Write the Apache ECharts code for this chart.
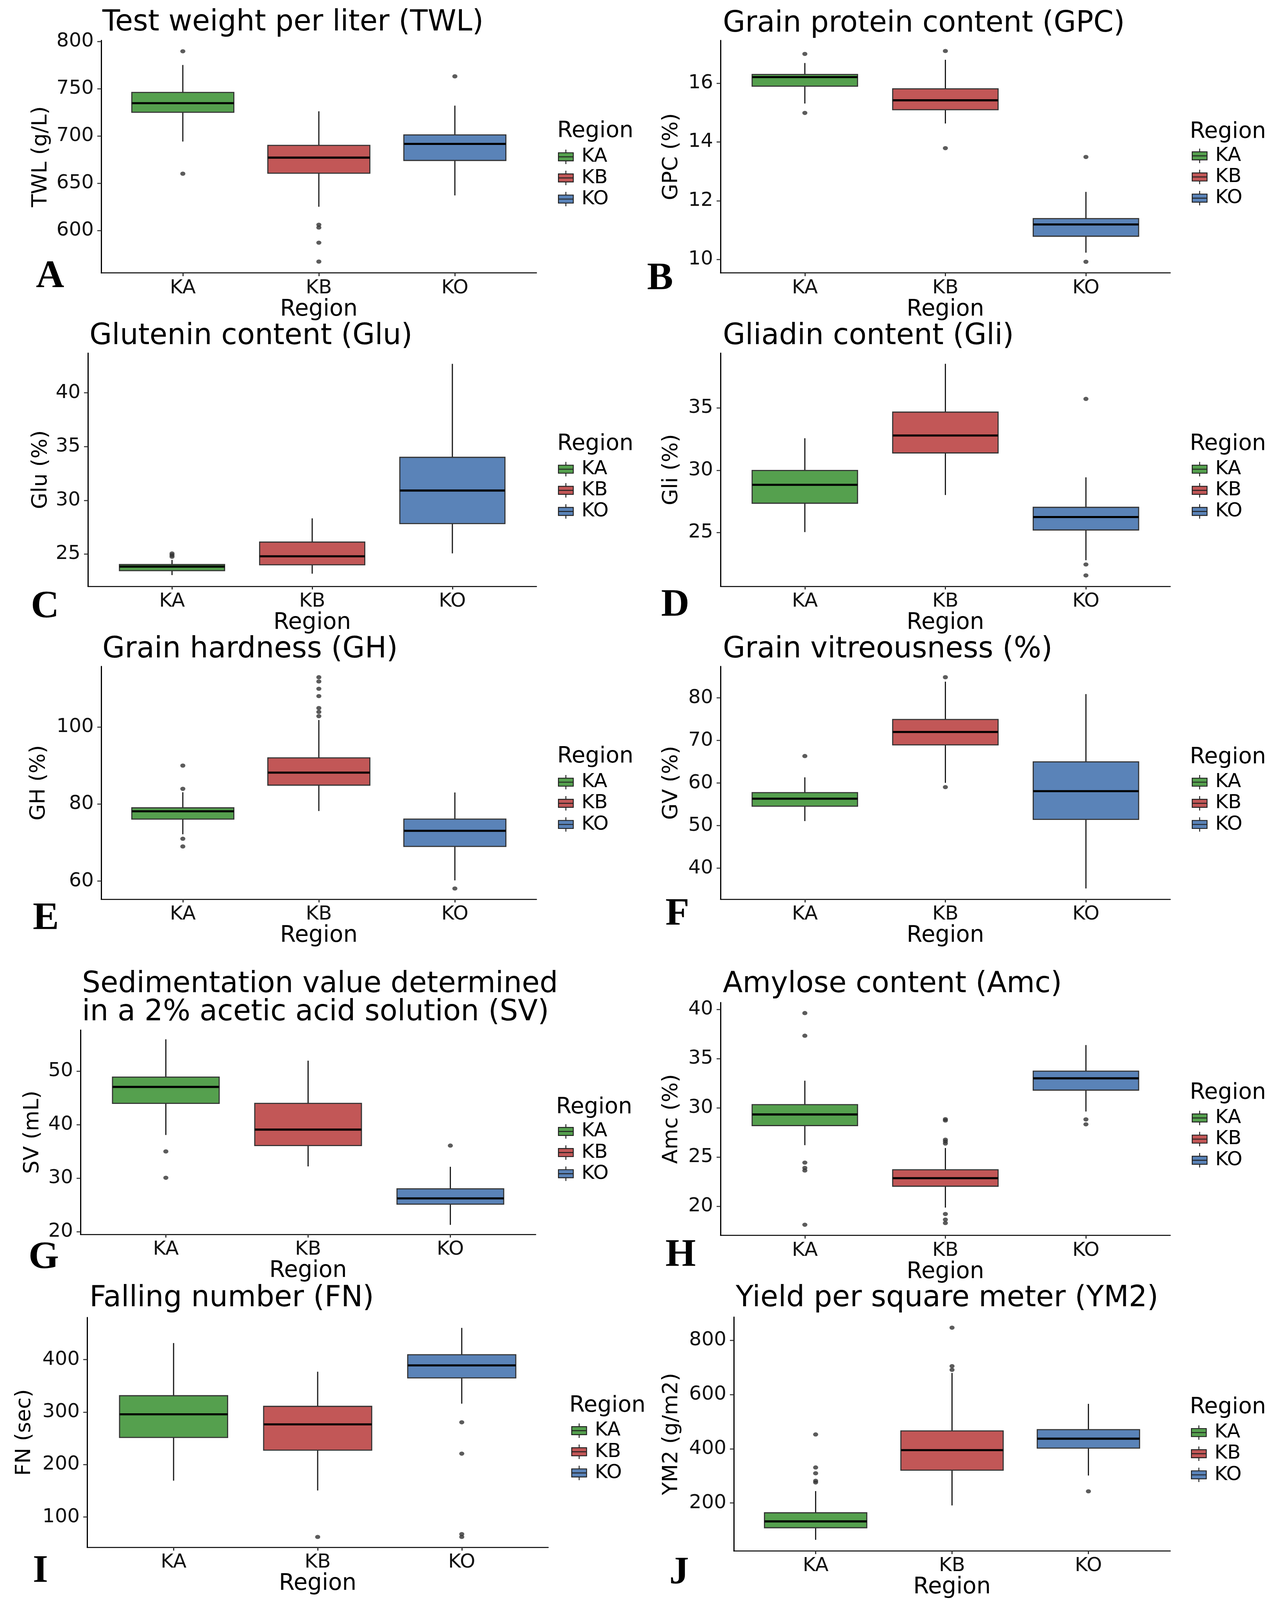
<!DOCTYPE html>
<html>
<head>
<meta charset="utf-8">
<script src="https://cdn.jsdelivr.net/npm/echarts@6/dist/echarts.min.js"></script>
<style>
html,body{margin:0;padding:0;background:#ffffff;overflow:hidden;}
#chart{position:absolute;left:0;top:0;}
</style>
</head>
<body>
<div id="chart"></div>
<script>
// ---------------- DATA ----------------
const regions = ['KA', 'KB', 'KO'];

// box stats per region: [lower whisker, Q1, median, Q3, upper whisker]
const twlBox = [[694, 725, 734.6, 746, 775], [625, 660.5, 677, 690, 726], [637, 674, 691.5, 701, 732]];
const twlOut = [[789.5, 660], [606, 603, 587, 567], [763]];
const twlTicks = [600, 650, 700, 750, 800];

const gpcBox = [[15.31, 15.90, 16.21, 16.30, 16.69], [14.63, 15.10, 15.42, 15.81, 16.80], [10.23, 10.79, 11.19, 11.39, 12.30]];
const gpcOut = [[17.0, 14.99], [17.10, 13.79], [13.49, 9.92]];
const gpcTicks = [10, 12, 14, 16];

const gluBox = [[23.04, 23.45, 23.83, 24.02, 24.45], [23.17, 24.0, 24.79, 26.11, 28.32], [25.06, 27.83, 30.91, 34.0, 42.70]];
const gluOut = [[24.75, 24.9, 25.05], [], []];
const gluTicks = [25, 30, 35, 40];

const gliBox = [[25.03, 27.35, 28.83, 29.98, 32.57], [28.01, 31.39, 32.79, 34.67, 38.55], [22.77, 25.2, 26.24, 27.02, 29.43]];
const gliOut = [[], [], [35.73, 22.43, 21.55]];
const gliTicks = [25, 30, 35];

const ghBox = [[72.16, 76.09, 78.13, 79.02, 83.06], [78.19, 84.9, 88.15, 91.98, 101.8], [60.2, 69.0, 73.05, 76.09, 83.0]];
const ghOut = [[89.98, 83.95, 71.0, 69.0], [112.9, 111.8, 109.9, 108.0, 104.9, 103.9, 102.8], [58.1]];
const ghTicks = [60, 80, 100];

const gvBox = [[51.07, 54.56, 56.33, 57.76, 61.34], [60.05, 68.97, 72.0, 74.94, 83.82], [35.24, 51.46, 58.1, 64.97, 80.9]];
const gvOut = [[66.35], [84.87, 59.05], []];
const gvTicks = [40, 50, 60, 70, 80];

const svBox = [[38.07, 43.98, 47.05, 48.88, 55.94], [32.2, 36.09, 39.08, 43.98, 51.95], [21.28, 25.15, 26.23, 28.02, 32.13]];
const svOut = [[35.0, 30.08], [], [36.09]];
const svTicks = [20, 30, 40, 50];

const amcBox = [[26.21, 28.2, 29.33, 30.33, 32.76], [19.87, 22.04, 22.86, 23.71, 25.92], [29.63, 31.8, 33.0, 33.73, 36.38]];
const amcOut = [[39.63, 37.33, 24.44, 23.9, 23.64, 18.13], [28.85, 28.72, 26.77, 26.59, 26.38, 19.22, 18.65, 18.3], [28.83, 28.33]];
const amcTicks = [20, 25, 30, 35, 40];

const fnBox = [[169.4, 251.7, 295.8, 331.3, 431.6], [150.7, 227.5, 276.7, 311.0, 377.0], [316.1, 365.3, 389.1, 409.4, 460.5]];
const fnOut = [[], [62.2], [280.6, 220.9, 67.6, 62.2]];
const fnTicks = [100, 200, 300, 400];

const ymBox = [[64, 108.6, 132, 163.7, 243.8], [190.9, 320.9, 394.9, 465.9, 679.7], [301.2, 402.4, 437.2, 470.4, 565.6]];
const ymOut = [[452.7, 331, 309.5, 281.6, 275.6], [846.7, 704.7, 691.1], [243]];
const ymTicks = [200, 400, 600, 800];

const panelTitles = ['Test weight per liter (TWL)', 'Grain protein content (GPC)', 'Glutenin content (Glu)', 'Gliadin content (Gli)',
  'Grain hardness (GH)', 'Grain vitreousness (%)', 'Sedimentation value determined\nin a 2% acetic acid solution (SV)',
  'Amylose content (Amc)', 'Falling number (FN)', 'Yield per square meter (YM2)'];
const yNames = ['TWL (g/L)', 'GPC (%)', 'Glu (%)', 'Gli (%)', 'GH (%)', 'GV (%)', 'SV (mL)', 'Amc (%)', 'FN (sec)', 'YM2 (g/m2)'];
const panelLetters = ['A', 'B', 'C', 'D', 'E', 'F', 'G', 'H', 'I', 'J'];
const yRanges = [[555, 801], [9.54, 17.46], [22.0, 43.7], [20.68, 39.41], [55.3, 115.7], [32.7, 87.4], [19.5, 57.66], [17.05, 40.7], [42.2, 480.4], [23, 885.5]];

const boxes = [twlBox, gpcBox, gluBox, gliBox, ghBox, gvBox, svBox, amcBox, fnBox, ymBox];
const outliers = [twlOut, gpcOut, gluOut, gliOut, ghOut, gvOut, svOut, amcOut, fnOut, ymOut];
const yTicks = [twlTicks, gpcTicks, gluTicks, gliTicks, ghTicks, gvTicks, svTicks, amcTicks, fnTicks, ymTicks];

// ---------------- LAYOUT / STYLE (reference pixel space 3281 x 4989) ----------------
const REF_W = 3281, REF_H = 4989;
const gridBoxes = [[259, 126, 1114, 725], [1844, 126, 1151, 725], [225, 1101, 1148, 727], [1844, 1101, 1151, 727],
  [259, 2078, 1114, 726], [1844, 2078, 1151, 726], [206, 3212, 1165, 637], [1844, 3126, 1151, 726],
  [223, 4108, 1180, 717], [1878, 4107, 1117, 729]];
const titleCenter = [[262, 72], [1850, 75], [229, 1050], [1850, 1050], [262, 2027], [1850, 2027], [210, 3070], [1850, 3070], [229, 4050], [1883, 4050]];
const yNameDist = [154, 125, 120, 125, 159, 125, 122, 125, 160, 159];
const legendPos = [[1428, 481], [3050, 478], [1428, 1455], [3050, 1455], [1428, 2431], [3050, 2431], [1428, 3520], [3050, 3478], [1462, 4453], [3048, 4459]];
const legendTitlePos = [[1426, 409], [3045, 412], [1426, 1385], [3045, 1385], [1426, 2360], [3045, 2362], [1423, 3453], [3045, 3408], [1457, 4384], [3045, 4389]];
const letterPos = [[92, 864], [1656, 870], [79, 1893], [1692, 1888], [84, 2865], [1703, 2852], [73, 3922], [1703, 3915], [84, 4900], [1713, 4905]];

const fills = ['#55A04E', '#C25757', '#5A83B8'];
const FONT = '"DejaVu Sans", "Liberation Sans", Arial, sans-serif';
const SERIF = '"Liberation Serif", "Times New Roman", serif';
const HALF_W = 0.375;
const xPositions = regions.map((_, i) => i + 1);

// fit the reference layout to the real viewport
const VW = window.innerWidth || REF_W, VH = window.innerHeight || REF_H;
const SX = VW / REF_W, SY = VH / REF_H;
const el = document.getElementById('chart');
el.style.width = VW + 'px';
el.style.height = VH + 'px';
const X = v => v * SX, Y = v => v * SY;

// font sizes in screen px
const TITLE_FS = 74, TICK_FS = 50, XNAME_FS = 58, YNAME_FS = 54, LEGT_FS = 57, LEG_FS = 50, LETTER_FS = 100;
const TITLE_LH = Math.round(Y(88));

const keyIcon = 'path://M19,0L19,10M0,10L38,10L38,35L0,35ZM0,22.5L38,22.5M19,35L19,45';

function renderBox(params, api) {
  const x = api.value(0);
  const lo = api.value(1), q1 = api.value(2), md = api.value(3), q3 = api.value(4), hi = api.value(5);
  const pLo = api.coord([x, lo]);
  const pHi = api.coord([x, hi]);
  const pQ1 = api.coord([x - HALF_W, q1]);
  const pQ3 = api.coord([x + HALF_W, q3]);
  const pMdL = api.coord([x - HALF_W, md]);
  const pMdR = api.coord([x + HALF_W, md]);
  const lineStyle = { stroke: '#1a1a1a', lineWidth: X(3) };
  return {
    type: 'group',
    children: [
      { type: 'line', shape: { x1: pHi[0], y1: pHi[1], x2: pHi[0], y2: pQ3[1] }, style: lineStyle },
      { type: 'line', shape: { x1: pLo[0], y1: pQ1[1], x2: pLo[0], y2: pLo[1] }, style: lineStyle },
      { type: 'rect', shape: { x: pQ1[0], y: pQ3[1], width: pQ3[0] - pQ1[0], height: pQ1[1] - pQ3[1] },
        style: { fill: api.visual('color'), stroke: '#333333', lineWidth: 2.8 } },
      { type: 'line', shape: { x1: pMdL[0], y1: pMdL[1], x2: pMdR[0], y2: pMdR[1] }, style: { stroke: '#000000', lineWidth: Y(6.5) } }
    ]
  };
}

const option = {
  animation: false,
  backgroundColor: '#ffffff',
  title: [], grid: [], xAxis: [], yAxis: [], legend: [], series: []
};

for (let i = 0; i < 10; i++) {
  const g = gridBoxes[i];
  option.grid.push({ left: X(g[0]), top: Y(g[1]), width: X(g[2]), height: Y(g[3]), containLabel: false, outerBoundsMode: 'none' });

  const tLH = i === 6 ? TITLE_LH : TITLE_FS;
  option.title.push({
    text: panelTitles[i], left: X(titleCenter[i][0]), top: Y(titleCenter[i][1]) - tLH / 2, padding: 0,
    textStyle: { fontFamily: FONT, fontSize: TITLE_FS, fontWeight: 'normal', color: '#000', lineHeight: tLH }
  });
  option.title.push({
    text: 'Region', left: X(legendTitlePos[i][0]), top: Y(legendTitlePos[i][1]) - LEGT_FS / 2, padding: 0,
    textStyle: { fontFamily: FONT, fontSize: LEGT_FS, fontWeight: 'normal', color: '#000', lineHeight: LEGT_FS }
  });
  option.title.push({
    text: panelLetters[i], left: X(letterPos[i][0]), top: Y(letterPos[i][1]) - LETTER_FS / 2, padding: 0,
    textStyle: { fontFamily: SERIF, fontSize: LETTER_FS, fontWeight: 'bold', color: '#000', lineHeight: LETTER_FS }
  });

  option.xAxis.push({
    type: 'value', gridIndex: i, min: 0.4, max: 3.6,
    name: 'Region', nameLocation: 'middle', nameGap: Y(100) - XNAME_FS / 2,
    nameTextStyle: { fontFamily: FONT, fontSize: XNAME_FS, color: '#000', lineHeight: XNAME_FS },
    axisLine: { show: true, onZero: false, lineStyle: { color: '#000', width: 2.6 } },
    axisTick: { show: true, length: Y(10), lineStyle: { color: '#333', width: 3 }, customValues: xPositions },
    axisLabel: { show: true, margin: Y(25) - 0.13 * TICK_FS, fontFamily: FONT, fontSize: TICK_FS, color: '#111', customValues: xPositions,
      formatter: (v) => regions[Math.round(v) - 1] || '' },
    splitLine: { show: false }
  });

  option.yAxis.push({
    type: 'value', gridIndex: i, min: yRanges[i][0], max: yRanges[i][1],
    name: yNames[i], nameLocation: 'middle', nameGap: X(yNameDist[i]) - YNAME_FS / 2,
    nameTextStyle: { fontFamily: FONT, fontSize: YNAME_FS, color: '#000', lineHeight: YNAME_FS },
    axisLine: { show: true, onZero: false, lineStyle: { color: '#000', width: 3 } },
    axisTick: { show: true, length: X(10), lineStyle: { color: '#333', width: 2.6 }, customValues: yTicks[i] },
    axisLabel: { show: true, margin: X(19), fontFamily: FONT, fontSize: TICK_FS, color: '#111', customValues: yTicks[i],
      formatter: (v) => String(v) },
    splitLine: { show: false }
  });

  const itemH = Y(45);
  option.legend.push({
    orient: 'vertical', left: X(legendPos[i][0]), top: Y(legendPos[i][1]) - itemH / 2, padding: 0,
    itemWidth: X(38), itemHeight: itemH, itemGap: Y(50) - itemH, selectedMode: false, symbolKeepAspect: false,
    data: regions.map(n => ({ name: n, icon: keyIcon })),
    itemStyle: { borderColor: '#222', borderWidth: 2.4 },
    textStyle: { fontFamily: FONT, fontSize: LEG_FS, color: '#000', lineHeight: itemH, padding: [0, 0, 0, X(16)] }
  });

  regions.forEach((r, k) => {
    option.series.push({
      type: 'custom', name: r, xAxisIndex: i, yAxisIndex: i,
      itemStyle: { color: fills[k], borderColor: '#222', borderWidth: 2.4 },
      encode: { x: 0, y: [1, 2, 3, 4, 5] },
      data: [[xPositions[k]].concat(boxes[i][k])],
      renderItem: renderBox,
      silent: true
    });
  });

  const outPts = [];
  outliers[i].forEach((arr, k) => arr.forEach(v => outPts.push([xPositions[k], v])));
  option.series.push({
    type: 'scatter', name: 'outliers', xAxisIndex: i, yAxisIndex: i,
    symbol: 'circle', symbolSize: [X(13), Y(13)], itemStyle: { color: '#333333' },
    data: outPts, silent: true, z: 3
  });
}

const chart = echarts.init(el);
chart.setOption(option);
</script>
</body>
</html>
